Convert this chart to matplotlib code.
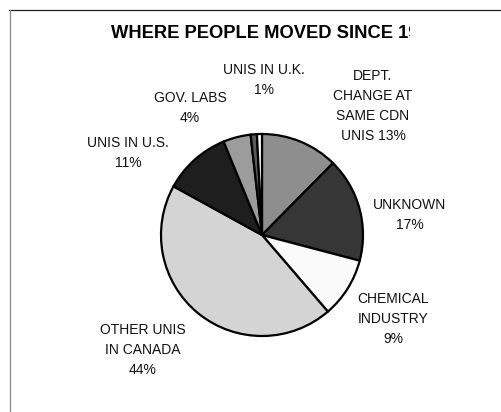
import matplotlib.pyplot as plt
from matplotlib.lines import Line2D
from matplotlib.patches import Rectangle

# dados (percentuais)
categorias = ['DEPT. CHANGE AT SAME CDN UNIS', 'UNKNOWN', 'CHEMICAL INDUSTRY',
              'OTHER UNIS IN CANADA', 'UNIS IN U.S.', 'GOV. LABS', 'UNIS IN U.K.', '']
valores = [12.4, 16.7, 9.6, 44.3, 10.8, 4.4, 1.0, 0.8]
rotulos = ['DEPT.\nCHANGE AT\nSAME CDN\nUNIS 13%', 'UNKNOWN\n17%', 'CHEMICAL\nINDUSTRY\n9%',
           'OTHER UNIS\nIN CANADA\n44%', 'UNIS IN U.S.\n11%', 'GOV. LABS\n4%', 'UNIS IN U.K.\n1%', '']
titulo = 'WHERE PEOPLE MOVED SINCE 1990'

cores = ['#8e8e8e', '#363636', '#fafafa', '#d4d4d4', '#1e1e1e', '#9c9c9c', '#5a5a5a', '#ffffff']

W, H = 502, 412
R = 101  # raio em pixels
cx, cy = 262, 235

plt.rcParams['font.family'] = ['Liberation Sans', 'DejaVu Sans']

fig = plt.figure(figsize=(W / 100, H / 100), dpi=100)
ax = fig.add_axes([0, 0, 1, 1])
ax.pie(valores, colors=cores, startangle=90, counterclock=False, radius=1,
       wedgeprops=dict(edgecolor='black', linewidth=1.6))
x0 = -cx / R
y0 = -(H - cy) / R
ax.set_xlim(x0, x0 + W / R)
ax.set_ylim(y0, y0 + H / R)
ax.axis('off')

# posicoes dos rotulos (pixels, a partir do topo)
pos = [(373, 106), (410, 215), (393, 319), (143, 350), (128, 153), (190, 108), (264, 80)]
for (px, py), txt in zip(pos, rotulos):
    fig.text(px / W, 1 - py / H, txt, ha='center', va='center', fontsize=10,
             linespacing=1.57, color='#111111')

# titulo cortado como no original
fig.text(111 / W, 1 - 33 / H, titulo, ha='left', va='center', fontsize=13.2,
         fontweight='bold', color='black')
fig.add_artist(Rectangle((410 / W, 1 - 55 / H), 1, 42 / H, transform=fig.transFigure,
                         facecolor='white', edgecolor='none', zorder=5))

# moldura
fig.add_artist(Line2D([9 / W, 1], [1 - 9.5 / H, 1 - 9.5 / H], transform=fig.transFigure,
                      color='#222222', linewidth=0.9, zorder=6))
fig.add_artist(Line2D([9.5 / W, 9.5 / W], [0, 1 - 9.5 / H], transform=fig.transFigure,
                      color='#888888', linewidth=0.9, zorder=6))

fig.savefig('out.png', dpi=100)
